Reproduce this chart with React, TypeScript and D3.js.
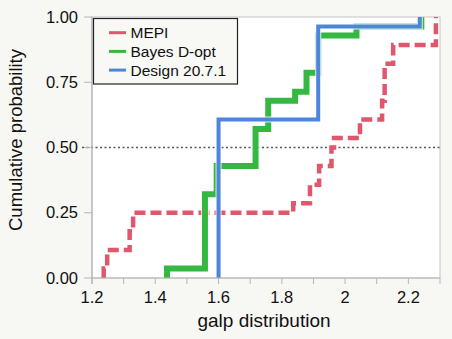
import React from "react";
import * as d3 from "d3";

const mepiX = [1.237, 1.248, 1.319, 1.33, 1.836, 1.889, 1.918, 1.957, 1.965, 2.047, 2.117, 2.125, 2.152, 2.287];
const mepiP = [0.036, 0.107, 0.179, 0.25, 0.286, 0.357, 0.429, 0.5, 0.536, 0.607, 0.679, 0.821, 0.893, 1.0];

const bayesX = [1.437, 1.557, 1.594, 1.717, 1.757, 1.842, 1.878, 1.915, 2.036, 2.241];
const bayesP = [0.036, 0.321, 0.429, 0.571, 0.679, 0.714, 0.786, 0.929, 0.964, 1.0];

const designX = [1.6, 1.915, 2.236];
const designP = [0.607, 0.964, 1.0];

const xTicks = [1.2, 1.4, 1.6, 1.8, 2.0, 2.2];
const xMinor = [1.3, 1.5, 1.7, 1.9, 2.1, 2.3];
const yTicks = [0, 0.25, 0.5, 0.75, 1.0];
const seriesNames = ["MEPI", "Bayes D-opt", "Design 20.7.1"];

const W = 452;
const H = 339;
const L = 92;
const R = 440;
const T = 17;
const B = 278;
const FONT = "'Liberation Sans', Arial, Helvetica, sans-serif";

export default function App() {
  const x = d3.scaleLinear().domain([1.2, 2.3]).range([L, R]);
  const y = d3.scaleLinear().domain([0, 1]).range([B, T]);
  const line = d3
    .line<[number, number]>()
    .x((d) => x(d[0]))
    .y((d) => y(d[1]))
    .curve(d3.curveStepAfter);
  const pts = (xs: number[], ps: number[]): [number, number][] => [
    [xs[0], 0],
    ...xs.map((v, i) => [v, ps[i]] as [number, number]),
  ];
  const series = [
    { name: seriesNames[0], d: line(pts(mepiX, mepiP)) || "", color: "#e0566a", w: 4.5, dash: "11,5" },
    { name: seriesNames[1], d: line(pts(bayesX, bayesP)) || "", color: "#35b841", w: 6, dash: "" },
    { name: seriesNames[2], d: line(pts(designX, designP)) || "", color: "#4c85da", w: 4, dash: "" },
  ];
  const fmtY = d3.format(".2f");
  const fmtX = (v: number) => (Math.abs(v - 2) < 1e-9 ? "2" : d3.format(".1f")(v));
  return (
    <svg width={W} height={H} style={{ display: "block" }} fontFamily={FONT}>
      <style>{`body{margin:0}`}</style>
      <rect x={0} y={0} width={W} height={H} fill="#f7f7f3" />
      <rect x={L} y={T} width={R - L} height={B - T} fill="#ffffff" />
      {/* frame */}
      <rect x={L} y={T} width={R - L} height={B - T} fill="none" stroke="#c4c4c4" strokeWidth={1} />
      {/* reference line */}
      <line x1={82} x2={R} y1={y(0.5)} y2={y(0.5)} stroke="#555" strokeWidth={1.4} strokeDasharray="2,2.5" />
      {/* series */}
      {series.map((s) => (
        <g key={s.name}>
          <path d={s.d} fill="none" stroke="#ffffff" strokeOpacity={0.8} strokeWidth={s.w + 2} strokeDasharray={s.dash || undefined} />
          <path d={s.d} fill="none" stroke={s.color} strokeWidth={s.w} strokeDasharray={s.dash || undefined} />
        </g>
      ))}
      {/* axes */}
      <line x1={L} x2={L} y1={T} y2={B + 6} stroke="#b5b5b5" strokeWidth={1.2} />
      <line x1={L - 1} x2={R} y1={B} y2={B} stroke="#b5b5b5" strokeWidth={1.2} />
      {xTicks.concat(xMinor).map((t) => (
        <line key={"xt" + t} x1={x(t)} x2={x(t)} y1={B} y2={B + 6} stroke="#b5b5b5" strokeWidth={1} />
      ))}
      {yTicks.map((t) => (
        <line key={"yt" + t} x1={L - 8} x2={L} y1={y(t)} y2={y(t)} stroke="#b5b5b5" strokeWidth={1} />
      ))}
      {xTicks.map((t) => (
        <text key={"xl" + t} x={x(t)} y={303} fontSize={16.5} textAnchor="middle" fill="#111">
          {fmtX(t)}
        </text>
      ))}
      {yTicks.map((t) => (
        <text key={"yl" + t} x={78} y={y(t) + 5.7} fontSize={16.5} textAnchor="end" fill="#111">
          {fmtY(t)}
        </text>
      ))}
      <text x={(L + R) / 2 - 2} y={327} fontSize={19} textAnchor="middle" fill="#111">
        galp distribution
      </text>
      <text transform={`translate(21.5,140) rotate(-90)`} fontSize={18.5} textAnchor="middle" fill="#111">
        Cumulative probability
      </text>
      {/* legend */}
      <rect x={93.5} y={18.5} width={144} height={65.5} fill="#f8f8f5" stroke="#222" strokeWidth={1.2} />
      {series.map((s, i) => (
        <g key={"lg" + s.name}>
          <line x1={109} x2={126} y1={32.7 + i * 18.7} y2={32.7 + i * 18.7} stroke={s.color} strokeWidth={3} />
          <text x={130.5} y={32.7 + i * 18.7 + 5.5} fontSize={15.5} fill="#111">
            {s.name}
          </text>
        </g>
      ))}
    </svg>
  );
}
